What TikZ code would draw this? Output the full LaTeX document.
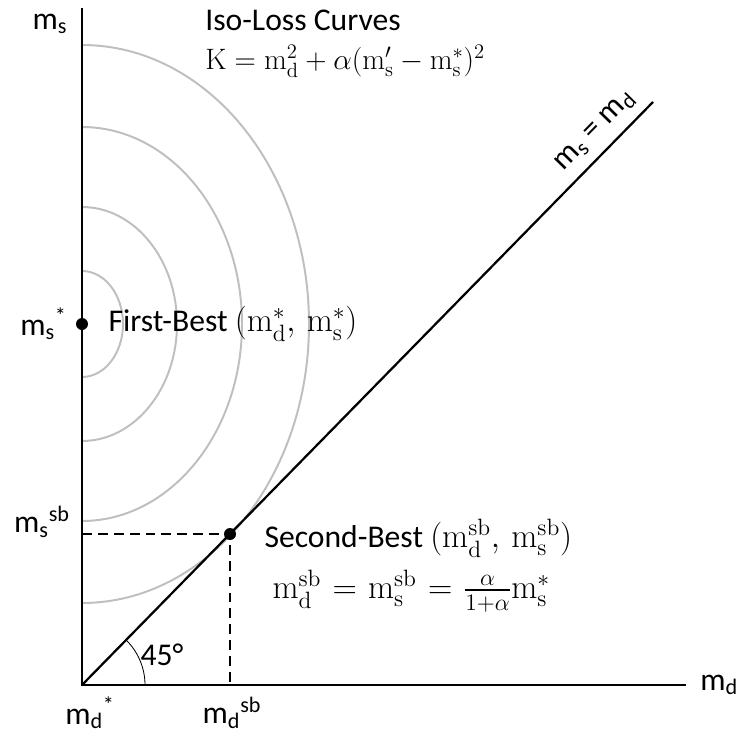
\RequirePackage{fix-cm}
\documentclass[tikz,border=0pt]{standalone}
\usepackage{amsmath}
\usepackage[no-math]{fontspec}
\setmainfont{Carlito}
\usetikzlibrary{positioning}
\newcommand{\mvar}[1]{\mathrm{m}_{\mathrm{#1}}}
\newcommand{\bigmath}[2][24]{{\fontsize{#1}{28}\selectfont$#2$}}
\tikzset{
axisline/.style={line width=2.1pt,black},
diagline/.style={line width=1.6pt,black},
isoloss/.style={line width=1.4pt,black!25},
guideline/.style={line width=1.4pt,black,dash pattern=on 7pt off 4.3pt},
anglearc/.style={line width=0.6pt,black},
optdot/.style={circle,fill=black,inner sep=0pt,minimum size=3mm},
lbl/.style={font=\fontsize{22.5}{27}\selectfont,inner sep=0pt}
}
\begin{document}
\begin{tikzpicture}[x=0.25mm,y=0.25mm]
\useasboundingbox (-82,-49) rectangle (654,685);
\coordinate (O) at (0,0);
\coordinate (ytop) at (0,677);
\coordinate (xend) at (604,0);
\coordinate (dend) at (571,583);
\coordinate (fb) at (0,361);
\coordinate (sb) at (148,151);
\foreach \a/\b in {41/53,95/117,160/197,227/279}
  \draw[isoloss] (0,361+\b) arc[start angle=90,end angle=-90,x radius=\a,y radius=\b];
\draw[guideline] (sb -| O) -- (sb) -- (sb |- O);
\draw[axisline] (ytop) -- (O) -- (xend);
\draw[diagline] (O) -- (dend) node[lbl,pos=0.925,sloped,above=2.4mm] (diaglbl) {m\textsubscript{s} = m\textsubscript{d}};
\draw[anglearc] (63,0) arc[start angle=0,end angle=45.6,radius=63];
\node[optdot] (fbdot) at (fb) {};
\node[optdot] (sbdot) at (sb) {};
\node[lbl] (msax) at (-32,661) {m\textsubscript{s}};
\node[lbl,right=3.5mm of xend] (mdax) {m\textsubscript{d}};
\node[lbl,left=2.2mm of fbdot] (msstar) {m\textsubscript{s}\textsuperscript{*}};
\node[lbl,right=5mm of fbdot] (fblbl) {First-Best \bigmath{(\mvar{d}^{*},\,\mvar{s}^{*})}};
\node[lbl] (mssb) at (-40,163) {m\textsubscript{s}\textsuperscript{sb}};
\node[lbl] (mdstar) at (8,-28) {m\textsubscript{d}\textsuperscript{*}};
\node[lbl] (mdsb) at (150,-28) {m\textsubscript{d}\textsuperscript{sb}};
\node[lbl] (angle) at (80,30) {45°};
\node[lbl,anchor=west] (isotitle) at (123,665) {Iso-Loss Curves};
\node[lbl,below=3.6mm of isotitle.south west,anchor=north west] (isoeq) {\bigmath[21]{\mathrm{K}=\mvar{d}^{2}+\alpha(\mathrm{m}'_{\mathrm{s}}-\mvar{s}^{*})^{2}}};
\node[lbl,right=7mm of sbdot,yshift=-1mm] (sblbl) {Second-Best \bigmath{(\mvar{d}^{\mathrm{sb}},\,\mvar{s}^{\mathrm{sb}})}};
\node[lbl,below=3mm of sblbl.south west,anchor=north west,xshift=2mm] (sbeq) {\bigmath{\thickmuskip=6mu\mvar{d}^{\mathrm{sb}}=\mvar{s}^{\mathrm{sb}}=\frac{\alpha}{1+\alpha}\mvar{s}^{*}}};
\end{tikzpicture}
\end{document}
